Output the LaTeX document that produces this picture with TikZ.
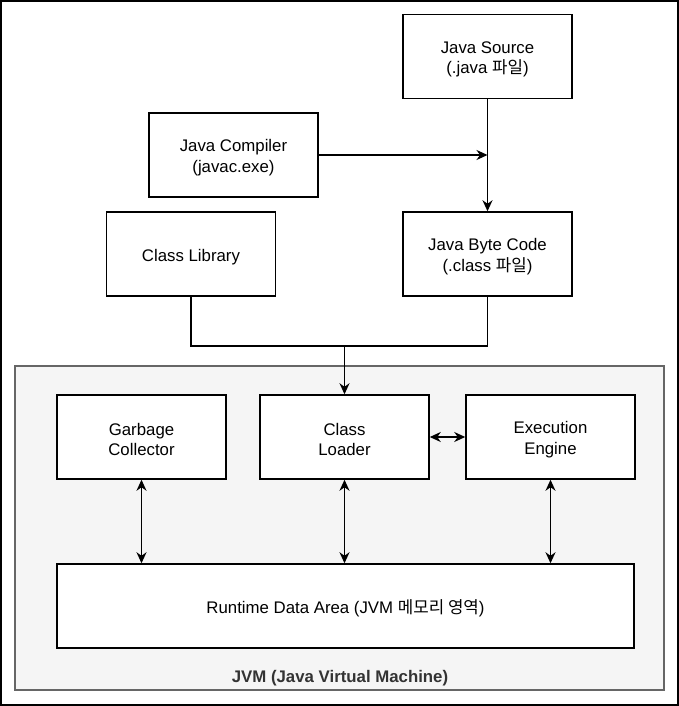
\documentclass[tikz,border=0pt]{standalone}
\usepackage{fontspec}
\setmainfont{Liberation Sans}
\newfontfamily\kr{Noto Sans CJK KR}
\usetikzlibrary{arrows.meta}
\newcommand\tstrut{\rule{0pt}{17.5pt}}
\begin{document}
\begin{tikzpicture}[x=1pt,y=-1pt,
  box/.style={draw=black,line width=1.5pt,fill=white,minimum width=169pt,minimum height=84pt,inner sep=0pt,align=center,font=\fontsize{16.8}{20.5}\selectfont},
  conn/.style={line width=1.6pt,-{Stealth[length=11pt,width=10pt,inset=3.5pt]}},
  bconn/.style={line width=1.6pt,{Stealth[length=11pt,width=10pt,inset=3.5pt]}-{Stealth[length=11pt,width=10pt,inset=3.5pt]}}]
\useasboundingbox (0,0) rectangle (679,706);
\draw[line width=2pt] (1,1) rectangle (678,705);
% JVM container
\node[draw=black!60,line width=1.5pt,fill=black!4,minimum width=649pt,minimum height=324pt,inner sep=0pt] (jvm) at (339.5,528) {};
\node[font=\fontsize{16.8}{20}\selectfont\bfseries,text=black!80] (jvmlabel) at (340,678) {JVM (Java Virtual Machine)};
% boxes
\node[box] (src) at (487.5,56.5) {\tstrut Java Source\\(.java {\kr 파일})};
\node[box] (comp) at (233.5,155) {\tstrut Java Compiler\\(javac.exe)};
\node[box] (lib) at (191,254) {\tstrut Class Library};
\node[box] (byte) at (487.5,254) {\tstrut Java Byte Code\\(.class {\kr 파일})};
\node[box] (gc) at (141.5,437) {\tstrut Garbage\\Collector};
\node[box] (cl) at (344.5,437) {\tstrut Class\\Loader};
\node[box] (ee) at (550.5,437) {\tstrut Execution\\Engine};
\node[box,minimum width=577pt] (rda) at (345.5,606) {\tstrut Runtime Data Area (JVM {\kr 메모리 영역})};
% connectors
\coordinate (m) at (487.5,155);
\coordinate (j) at (344.5,346);
\draw[conn] (src) -- (byte);
\draw[conn] (comp.east) -- (m);
\draw[line width=1.6pt] (lib.south) |- (j);
\draw[line width=1.6pt] (byte.south) |- (j);
\draw[conn] (j) -- (cl.north);
\draw[bconn] (cl.east) -- (ee.west);
\draw[bconn] (gc.south) -- (gc.south |- rda.north);
\draw[bconn] (cl.south) -- (cl.south |- rda.north);
\draw[bconn] (ee.south) -- (ee.south |- rda.north);
\end{tikzpicture}
\end{document}
